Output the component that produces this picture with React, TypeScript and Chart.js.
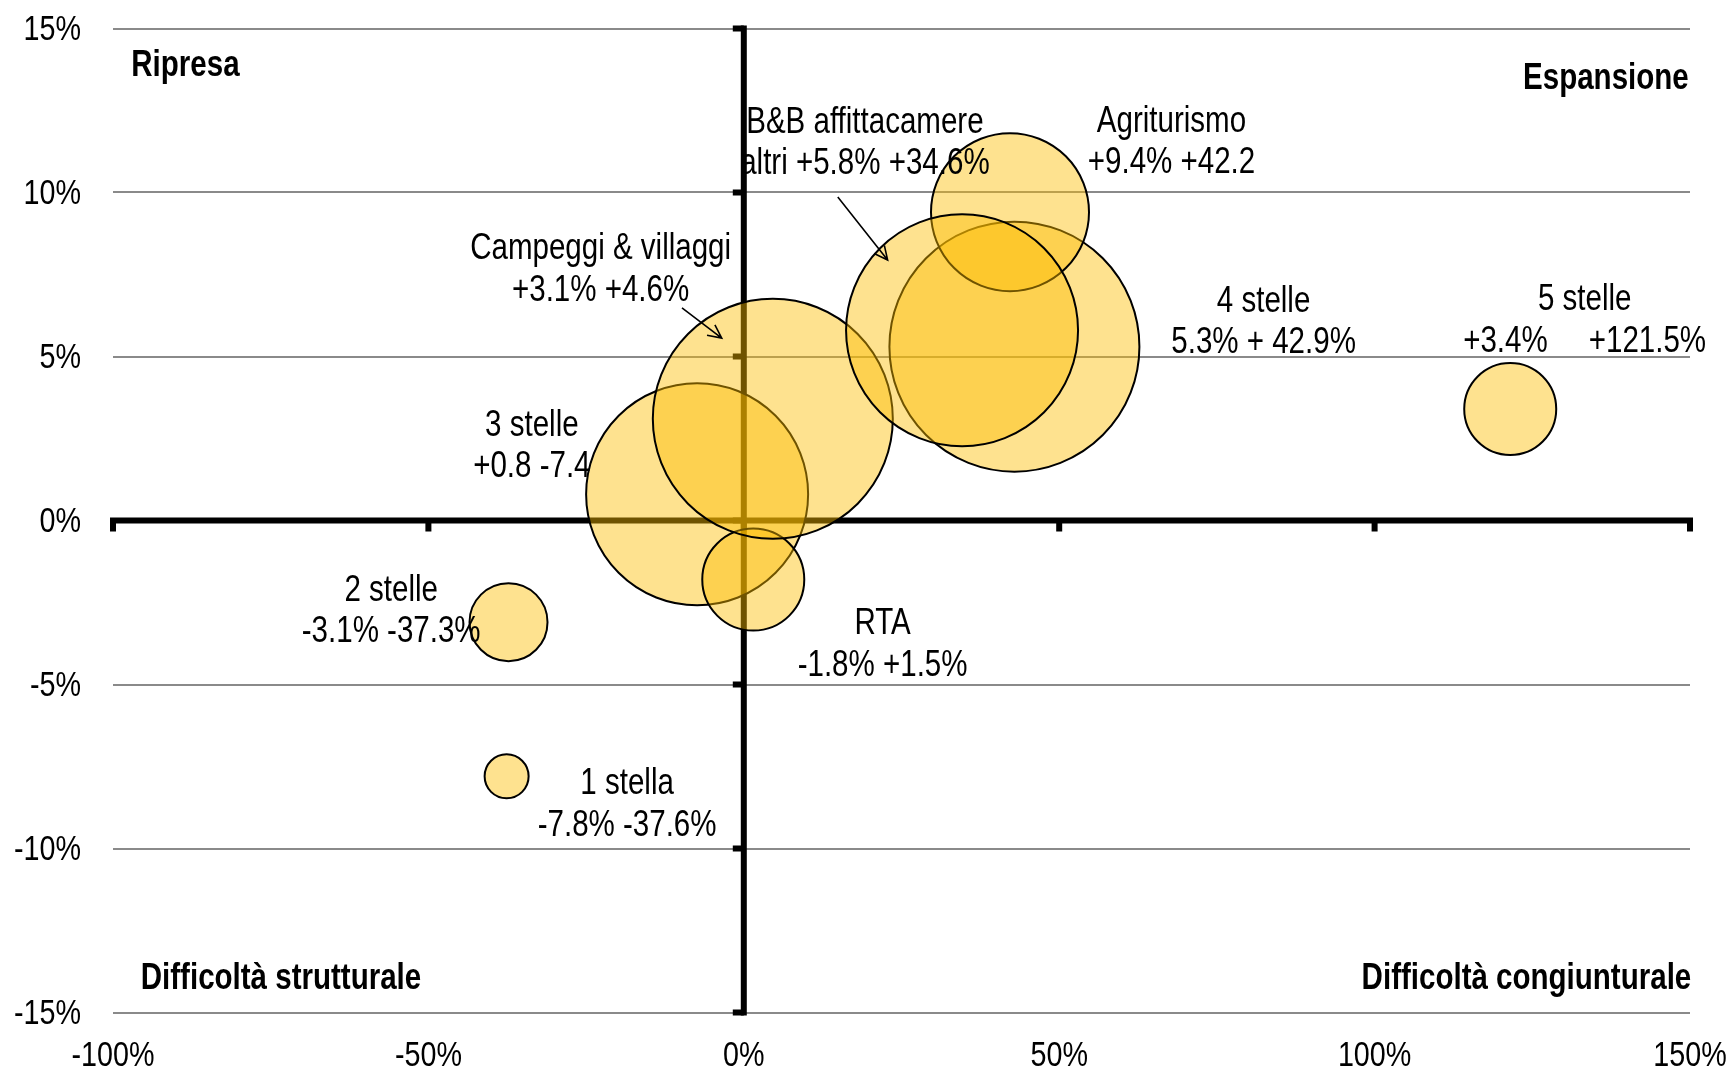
import React, { useEffect, useRef } from "react";
import { Chart, registerables } from "chart.js";

Chart.register(...registerables);

// ---- data ----
const categories = ["1 stella", "2 stelle", "3 stelle", "4 stelle", "5 stelle", "RTA", "Agriturismo", "Campeggi & villaggi", "B&B affittacamere altri"];
const occupancyChange = [-7.8, -3.1, 0.8, 5.3, 3.4, -1.8, 9.4, 3.1, 5.8]; // y (%)
const structureChange = [-37.6, -37.3, -7.4, 42.9, 121.5, 1.5, 42.2, 4.6, 34.6]; // x (%)
const bubbleSize = [22, 39, 111, 125, 46, 51, 79, 120, 116];

const xTickValues = [-100, -50, 0, 50, 100, 150];
const yTickValues = [-15, -10, -5, 0, 5, 10, 15];

// annotation texts (positions in data units)
const labelTexts = [
  ["B&B affittacamere", "altri +5.8% +34.6%"],
  ["Agriturismo", "+9.4% +42.2"],
  ["Campeggi & villaggi", "+3.1% +4.6%"],
  ["3 stelle", "+0.8 -7.4"],
  ["2 stelle", "-3.1% -37.3%"],
  ["1 stella", "-7.8% -37.6%"],
  ["RTA", "-1.8% +1.5%"],
  ["4 stelle", "5.3% + 42.9%"],
  ["5 stelle", "+3.4%     +121.5%"],
];
const labelX = [19.2, 67.8, -22.7, -33.6, -55.9, -18.5, 22.0, 82.4, 133.3];
const labelY = [12.12, 12.16, 8.26, 2.89, -2.14, -8.05, -3.17, 6.66, 6.72];

const quadrantTexts = ["Ripresa", "Espansione", "Difficoltà strutturale", "Difficoltà congiunturale"];
const quadrantX = [-97.1, 149.8, -95.6, 150.2];
const quadrantY = [13.86, 13.47, -13.98, -13.98];
const quadrantAlign: CanvasTextAlign[] = ["left", "right", "left", "right"];

// arrows [x1, y1, x2, y2] in data units
const arrows = [
  [-9.8, 6.48, -3.5, 5.56],
  [14.9, 9.86, 22.8, 7.94],
];

const SANS = '"Liberation Sans", Arial, sans-serif';
const NARROW_X = 0.82; // horizontal condensing (Arial Narrow look)

function narrowText(ctx: CanvasRenderingContext2D, t: string, x: number, y: number, align: CanvasTextAlign) {
  ctx.save();
  ctx.translate(x, y);
  ctx.scale(NARROW_X, 1);
  ctx.textAlign = align;
  ctx.fillText(t, 0, 0);
  ctx.restore();
}

export default function App() {
  const ref = useRef<HTMLCanvasElement | null>(null);

  useEffect(() => {
    document.body.style.margin = "0";
    const canvas = ref.current!;
    const points = categories.map((_, i) => ({ x: structureChange[i], y: occupancyChange[i], r: bubbleSize[i] }));

    const axesPlugin = {
      id: "quadAxes",
      beforeDatasetsDraw(chart: any) {
        const { ctx } = chart;
        const xs = chart.scales.x;
        const ys = chart.scales.y;
        const x0 = xs.getPixelForValue(0);
        const y0 = ys.getPixelForValue(0);
        ctx.save();
        ctx.strokeStyle = "#000";
        ctx.lineWidth = 6;
        ctx.lineCap = "butt";
        ctx.beginPath();
        ctx.moveTo(xs.left - 3, y0);
        ctx.lineTo(xs.right + 3, y0);
        ctx.moveTo(x0, ys.top - 3);
        ctx.lineTo(x0, ys.bottom + 3);
        ctx.stroke();
        ctx.beginPath();
        xs.ticks.forEach((t: any) => {
          const px = xs.getPixelForValue(t.value);
          ctx.moveTo(px, y0);
          ctx.lineTo(px, y0 + 11);
        });
        ys.ticks.forEach((t: any) => {
          const py = ys.getPixelForValue(t.value);
          ctx.moveTo(x0, py);
          ctx.lineTo(x0 - 11, py);
        });
        ctx.stroke();

        // tick labels (Arial Narrow look)
        ctx.fillStyle = "#000";
        ctx.textBaseline = "middle";
        ctx.font = `35px ${SANS}`;
        xs.ticks.forEach((t: any) => {
          narrowText(ctx, `${t.value}%`, xs.getPixelForValue(t.value), xs.top + 44, "center");
        });
        ys.ticks.forEach((t: any) => {
          narrowText(ctx, `${t.value}%`, ys.left + 81, ys.getPixelForValue(t.value) + 1.5, "right");
        });
        ctx.restore();
      },
    };

    const textPlugin = {
      id: "quadTexts",
      afterDatasetsDraw(chart: any) {
        const { ctx } = chart;
        const xs = chart.scales.x;
        const ys = chart.scales.y;
        ctx.save();
        ctx.fillStyle = "#000";
        ctx.textBaseline = "middle";
        ctx.font = `36px ${SANS}`;
        labelTexts.forEach((lines, i) => {
          const px = xs.getPixelForValue(labelX[i]);
          const py = ys.getPixelForValue(labelY[i]);
          lines.forEach((t, j) => narrowText(ctx, t, px, py + j * 41.5, "center"));
        });
        ctx.font = `bold 36px ${SANS}`;
        quadrantTexts.forEach((t, i) => {
          narrowText(ctx, t, xs.getPixelForValue(quadrantX[i]), ys.getPixelForValue(quadrantY[i]), quadrantAlign[i]);
        });
        ctx.strokeStyle = "#000";
        ctx.lineWidth = 1.6;
        arrows.forEach(([a, b, c, d]) => {
          const x1 = xs.getPixelForValue(a), y1 = ys.getPixelForValue(b);
          const x2 = xs.getPixelForValue(c), y2 = ys.getPixelForValue(d);
          const ang = Math.atan2(y2 - y1, x2 - x1);
          const L = 15;
          ctx.beginPath();
          ctx.moveTo(x1, y1);
          ctx.lineTo(x2, y2);
          ctx.moveTo(x2 - L * Math.cos(ang - 0.45), y2 - L * Math.sin(ang - 0.45));
          ctx.lineTo(x2, y2);
          ctx.lineTo(x2 - L * Math.cos(ang + 0.45), y2 - L * Math.sin(ang + 0.45));
          ctx.stroke();
        });
        ctx.restore();
      },
    };

    const chart = new Chart(canvas, {
      type: "bubble",
      data: {
        datasets: [
          {
            data: points,
            backgroundColor: "rgba(253,190,0,0.44)",
            borderColor: "#000",
            borderWidth: 2,
            hoverBorderWidth: 2,
            hoverRadius: 0,
            clip: false,
          },
        ],
      },
      options: {
        animation: false,
        responsive: false,
        maintainAspectRatio: false,
        devicePixelRatio: 1,
        events: [],
        layout: { autoPadding: false, padding: { left: 0, right: 42, top: 28.5, bottom: 0 } },
        plugins: { legend: { display: false }, tooltip: { enabled: false } },
        scales: {
          x: {
            type: "linear",
            position: "bottom",
            min: -100,
            max: 150,
            afterBuildTicks: (s: any) => { s.ticks = xTickValues.map((v) => ({ value: v })); },
            afterFit: (s: any) => { s.height = 61.5; },
            ticks: { display: false },
            grid: { display: false, drawTicks: false },
            border: { display: false },
          },
          y: {
            type: "linear",
            position: "left",
            min: -15,
            max: 15,
            afterBuildTicks: (s: any) => { s.ticks = yTickValues.map((v) => ({ value: v })); },
            afterFit: (s: any) => { s.width = 113; },
            ticks: { display: false },
            grid: {
              drawTicks: false,
              lineWidth: 2,
              color: (c: any) => (c.tick && c.tick.value === 0 ? "rgba(0,0,0,0)" : "#8a8a8a"),
            },
            border: { display: false },
          },
        },
      },
      plugins: [axesPlugin, textPlugin],
    });
    return () => chart.destroy();
  }, []);

  return <canvas ref={ref} width={1732} height={1074} style={{ display: "block" }} />;
}
